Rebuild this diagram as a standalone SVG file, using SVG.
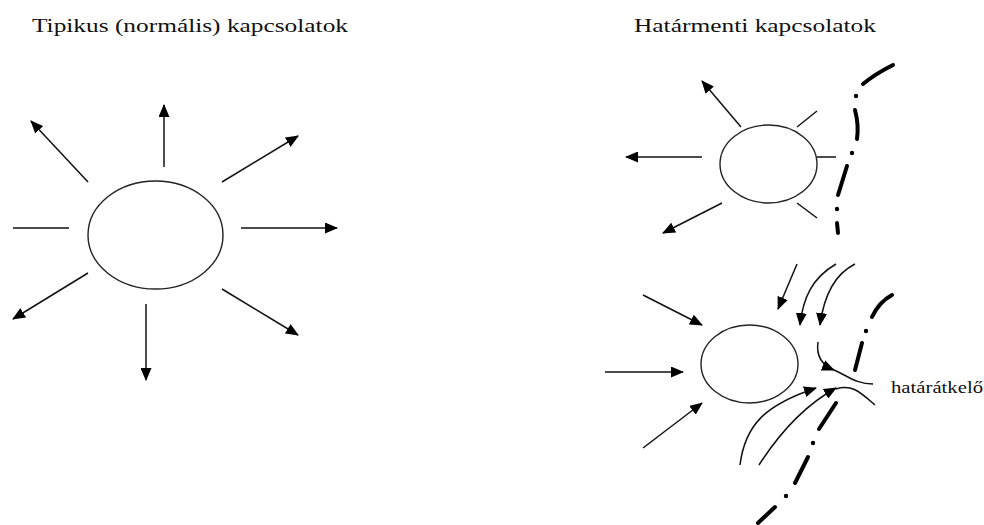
<svg xmlns="http://www.w3.org/2000/svg" width="984" height="525" viewBox="0 0 984 525">
<defs>
<style>
.t{font-family:"Liberation Serif","Times New Roman",serif;fill:#111;}
.n{fill:none;stroke:#222;stroke-width:1.4;}
.c{fill:none;stroke:#111;stroke-width:1.5;}
.a{marker-end:url(#ah);}
.b{fill:none;stroke:#000;stroke-width:4;stroke-linecap:round;}
.d{fill:#000;}
</style>
<marker id="ah" viewBox="0 0 13 11" refX="12" refY="5.5" markerWidth="13" markerHeight="11" markerUnits="userSpaceOnUse" orient="auto">
<path d="M0,0 L13,5.5 L0,11 z" fill="#000"/>
</marker>
</defs>
<rect width="984" height="525" fill="#fff"/>
<text class="t" x="32" y="32" font-size="18" textLength="316" lengthAdjust="spacingAndGlyphs">Tipikus (normális) kapcsolatok</text>
<text class="t" x="634" y="32" font-size="18" textLength="242" lengthAdjust="spacingAndGlyphs">Határmenti kapcsolatok</text>
<text class="t" x="891" y="393" font-size="16" textLength="92" lengthAdjust="spacingAndGlyphs">határátkelő</text>
<g id="node-typical"><ellipse class="n" cx="155.5" cy="235" rx="67.5" ry="54"/></g>
<g id="node-border-top"><ellipse class="n" cx="768.5" cy="164" rx="48.5" ry="39"/></g>
<g id="node-border-bottom"><ellipse class="n" cx="749.5" cy="364" rx="48.5" ry="39"/></g>
<g id="border-lines">
<path class="b" d="M893,65 Q875,74 863,84"/>
<circle class="d" cx="856" cy="96" r="2.2"/>
<path class="b" d="M855,110 Q859,125 857,139"/>
<circle class="d" cx="852" cy="153" r="2.2"/>
<path class="b" d="M847,166 L838,195"/>
<circle class="d" cx="837" cy="209" r="2.2"/>
<path class="b" d="M837,223 L838,233"/>
<path class="b" d="M892,295 Q879,302 872,317"/>
<circle class="d" cx="866" cy="331" r="2.2"/>
<path class="b" d="M862,343 L855,370"/>
<path class="b" d="M836,403 L819,429"/>
<circle class="d" cx="813" cy="443" r="2.2"/>
<path class="b" d="M808,457 L795,483"/>
<circle class="d" cx="786" cy="496" r="2.2"/>
<path class="b" d="M775,507 L758,523"/>
</g>
<g id="connectors">
<line class="c a" x1="88" y1="182" x2="31" y2="121"/>
<line class="c a" x1="164" y1="167" x2="164" y2="105"/>
<line class="c a" x1="222" y1="182" x2="298" y2="136"/>
<line class="c a" x1="241" y1="228" x2="337" y2="228"/>
<line class="c" x1="13" y1="228" x2="69" y2="228"/>
<line class="c a" x1="88" y1="273" x2="13" y2="319"/>
<line class="c a" x1="146" y1="304" x2="146" y2="380"/>
<line class="c a" x1="222" y1="289" x2="298" y2="335"/>
<line class="c a" x1="741" y1="127" x2="702" y2="81"/>
<line class="c a" x1="702" y1="157" x2="626" y2="157"/>
<line class="c a" x1="722" y1="203" x2="663" y2="233"/>
<line class="c" x1="797" y1="127" x2="817" y2="111"/>
<line class="c" x1="817" y1="157" x2="836" y2="157"/>
<line class="c" x1="797" y1="203" x2="817" y2="218"/>
<line class="c a" x1="643" y1="295" x2="702" y2="325"/>
<line class="c a" x1="605" y1="372" x2="683" y2="372"/>
<line class="c a" x1="643" y1="448" x2="702" y2="403"/>
<line class="c a" x1="797" y1="264" x2="778" y2="309"/>
<path class="c a" d="M836,264 C812,278 803,298 800,325"/>
<path class="c a" d="M855,264 C835,274 824,295 820,325"/>
<path class="c a" d="M818,342 C816,356 822,365 834,370"/>
<path class="c" d="M834,370 C848,376 856,384 873,384"/>
<path class="c a" d="M740,465 C745,425 765,405 816,388"/>
<path class="c a" d="M759,465 C775,440 800,408 836,388"/>
<path class="c" d="M836,389 C852,384 860,392 875,405"/>
</g>
</svg>
